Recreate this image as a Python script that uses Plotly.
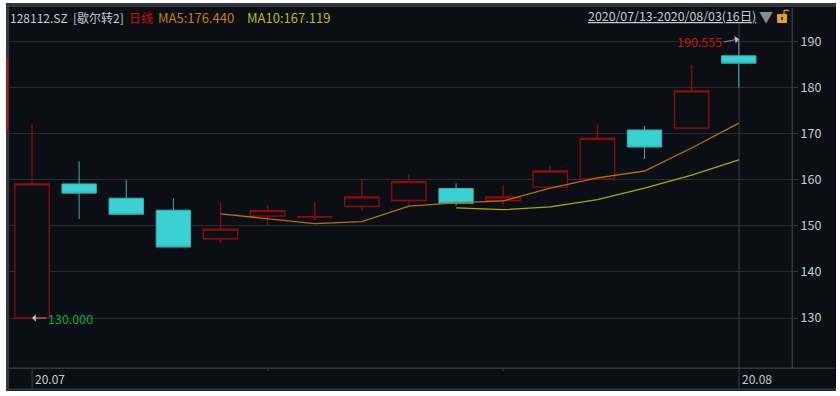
import plotly.graph_objects as go

dates = ["07-13","07-14","07-15","07-16","07-17","07-20","07-21","07-22","07-23","07-24","07-27","07-28","07-29","07-30","07-31","08-03"]
opens = [130.0,159.1,156.0,153.4,147.2,152.1,151.9,154.2,155.5,158.1,155.5,158.4,160.2,170.8,171.2,186.9]
closes = [159.1,157.1,152.5,145.4,149.3,153.3,152.0,156.3,159.6,154.9,156.3,161.9,169.0,167.1,179.3,185.3]
highs = [172.1,164.0,160.0,156.0,155.0,154.6,155.2,160.3,161.2,159.2,158.9,163.0,172.0,171.7,184.9,190.555]
lows = [130.0,151.5,152.5,145.4,146.3,150.2,151.3,153.2,154.5,154.4,154.4,158.4,160.2,164.5,171.2,180.0]
ma5 = [None]*4 + [152.6,151.5,150.5,150.9,154.3,155.0,155.4,158.2,160.4,161.9,166.9,172.3]
ma10 = [None]*9 + [153.9,153.5,154.1,155.7,158.2,161.0,164.3]
y_ticks = [130,140,150,160,170,180,190]

W, H = 836, 396
L, R, T, B = 8, 792, 9, 368
BG = "#0b0e14"; GRID = "#282b30"; LINE = "#33363c"; TXT = "#c6ccd3"
FONT = "Noto Sans CJK SC"

def px(x): return (x - L) / (R - L)
def py(y): return (B - y) / (B - T)

fig = go.Figure()
fig.add_trace(go.Candlestick(
    x=dates, open=opens, high=highs, low=lows, close=closes,
    increasing=dict(line=dict(color="#8f0b0b", width=1.3), fillcolor=BG),
    decreasing=dict(line=dict(color="#35b0b3", width=1), fillcolor="#3bd1d2"),
    showlegend=False, hoverinfo="skip"))
fig.add_trace(go.Scatter(x=dates, y=ma5, mode="lines", line=dict(color="#b5700f", width=1.3), showlegend=False, hoverinfo="skip"))
fig.add_trace(go.Scatter(x=dates, y=ma10, mode="lines", line=dict(color="#a8a80f", width=1.3), showlegend=False, hoverinfo="skip"))

def rect(x0, y0, x1, y1, color, layer="below"):
    fig.add_shape(type="rect", xref="paper", yref="paper", x0=px(x0), x1=px(x1), y0=py(y0), y1=py(y1),
                  fillcolor=color, line=dict(width=0), layer=layer)

rect(6, 3, W, 391, BG)            # dark window
rect(6, 3, W, 7, "#33363c")       # top bar
rect(6, 3, 9, 391, "#33363c")     # left border
rect(6, 58, 8, 130, "#b01414")    # left red marker
rect(8, 367.5, W, 369, LINE)      # axis strip top
rect(8, 388.5, W, 390.5, LINE)    # axis strip bottom
rect(791.5, 8, 793, 368, LINE)    # value axis line
rect(31.5, 368, 32.7, 389, LINE)
rect(738.5, 23, 739.7, 390, LINE)
rect(267.5, 368, 268.7, 371, LINE)
rect(502.5, 368, 503.7, 371, LINE)
# padlock
rect(777, 14, 787, 23, "#e0a020", "above")
rect(781, 17, 783, 20, "#3a2a08", "above")
fig.add_shape(type="path", xref="paper", yref="paper", layer="above",
              path=f"M {px(784)} {py(14)} L {px(784)} {py(11)} L {px(787)} {py(10)} L {px(789)} {py(11)}",
              line=dict(color="#e0a020", width=1.2))

def label(x, y, text, color, size=12, anchor="left"):
    fig.add_annotation(xref="paper", yref="paper", x=px(x), y=py(y), text=text, showarrow=False,
                       xanchor=anchor, yanchor="middle", font=dict(family=FONT, size=size, color=color))

label(8, 17, "128112.SZ", TXT)
label(71, 17, "[歇尔转2]", TXT)
label(127, 17, "日线", "#d00c0c")
label(156, 17, "MA5:176.440", "#c97c08", size=13)
label(245, 17, "MA10:167.119", "#bdbd00", size=13)
label(758, 16, "<u>2020/07/13-2020/08/03(16日)</u>", TXT, size=12.4, anchor="right")
label(766, 16, "▼", "#8a8d90", size=14, anchor="center")
label(33, 378, "20.07", TXT)
label(739.5, 378, "20.08", TXT)

fig.add_annotation(x=dates[15], y=highs[15], ax=-15, ay=3, text="190.555", xanchor="right", yanchor="middle",
                   showarrow=True, arrowhead=1, arrowsize=1.8, arrowwidth=0.7, arrowcolor="#c0c0c0",
                   standoff=0, font=dict(family=FONT, size=12.5, color="#c8141e"))
fig.add_annotation(x=dates[0], y=lows[0], ax=14, ay=0, text="130.000", xanchor="left", yanchor="middle",
                   showarrow=True, arrowhead=1, arrowsize=1.8, arrowwidth=0.7, arrowcolor="#c0c0c0",
                   standoff=0, font=dict(family=FONT, size=12.5, color="#12a84a"))

fig.update_layout(
    width=W, height=H, paper_bgcolor="white", plot_bgcolor="rgba(0,0,0,0)",
    margin=dict(l=L, r=W-R, t=T, b=H-B, autoexpand=False), boxgap=0.27, boxgroupgap=0, showlegend=False,
    xaxis=dict(type="category", range=[-0.51, 16.13], rangeslider=dict(visible=False), showgrid=False,
               showticklabels=False, ticks="", zeroline=False, showline=False, categoryorder="array", categoryarray=dates),
    yaxis=dict(side="right", range=[119.15, 197.06], tickvals=y_ticks, showgrid=True, gridcolor=GRID, gridwidth=1.2,
               zeroline=False, showline=False, ticks="outside", ticklen=5, tickcolor=LINE,
               tickfont=dict(family=FONT, size=12.5, color=TXT)),
)
fig.write_html("out.html", config=dict(displayModeBar=False),
               post_script="document.body.style.margin='0';")
